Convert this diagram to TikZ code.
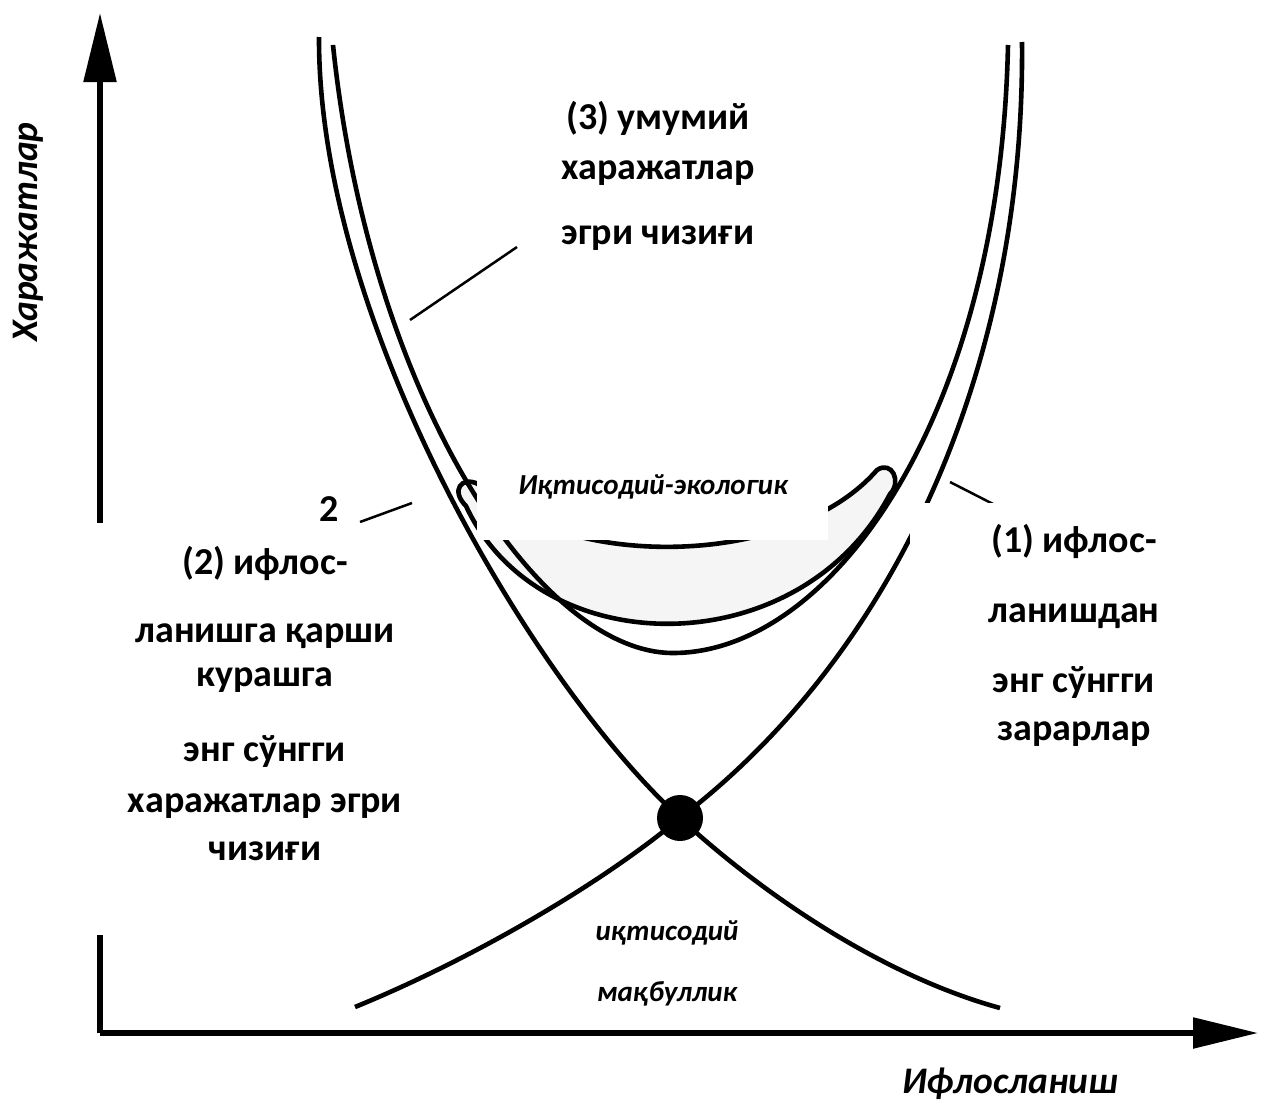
\documentclass[tikz,border=0pt]{standalone}
\usepackage{fontspec}
\setmainfont{Carlito}
\usetikzlibrary{arrows.meta}

\tikzset{
  curve/.style={line width=4.6pt},
  axis/.style={line width=5.5pt},
  pointer/.style={line width=2.5pt},
  mask/.style={fill=white},
  label/.style={font=\fontsize{38}{46}\selectfont\bfseries, align=center, inner sep=0pt},
  axislabel/.style={font=\fontsize{37.5}{45}\selectfont\bfseries\itshape, inner sep=0pt},
  note/.style={font=\fontsize{29}{34}\selectfont\bfseries\itshape, inner sep=0pt},
}

\begin{document}
\begin{tikzpicture}[x=1pt,y=-1pt]
    \useasboundingbox (0,0) rectangle (1261,1100);

    % Axes
    \coordinate (o) at (100,1033);
    \coordinate (ytip) at (100,13);
    \coordinate (xtip) at (1258,1033);
    \draw[axis,-{Triangle[length=69pt,width=32pt]}] (o) -- (ytip);
    \draw[axis,-{Triangle[length=65pt,width=30pt]}] (o) -- (xtip);

    % Optimal zone between the inner curves
    \filldraw[curve, fill=black!4]
        (478,484) .. controls (560,570) and (790,570) .. (877,470)
        .. controls (892,460) and (902,482) .. (890,494)
        .. controls (800,665) and (540,665) .. (466,506)
        .. controls (450,490) and (462,476) .. (478,484) -- cycle;

    % Marginal cost of pollution control (2)
    \node[circle, fill, minimum size=46pt, inner sep=0pt] (opt) at (680,818) {};
    \draw[curve] (319,37) .. controls (318,320) and (530,680) .. (opt.center)
        .. controls (760,892) and (880,975) .. (1000,1008);

    % Marginal damage from pollution (1)
    \draw[curve] (1022,42) .. controls (1025,360) and (900,650) .. (opt.center)
        .. controls (600,885) and (470,960) .. (355,1007);

    % Total cost curve (3)
    \draw[curve] (333,45) .. controls (370,400) and (540,653) .. (673,653)
        .. controls (830,653) and (1000,420) .. (1008,45);

    % Pointers
    \coordinate (p3a) at (410,320);
    \coordinate (p3b) at (517,247);
    \coordinate (p2a) at (360,522);
    \coordinate (p2b) at (412,503);
    \coordinate (p1a) at (950,482);
    \coordinate (p1b) at (995,505);
    \draw[pointer] (p3a) -- (p3b);
    \draw[pointer] (p2a) -- (p2b);
    \draw[pointer] (p1a) -- (p1b);
    \node[label, anchor=base] (two) at (329,521) {2};

    % White boxes under the texts
    \fill[mask] (477,463) rectangle (828,540);
    \fill[mask] (97,523) rectangle (428,935);
    \fill[mask] (910,503) rectangle (1240,760);
    \fill[mask] (565,902) rectangle (770,947);
    \fill[mask] (520,947) rectangle (842,1020);

    % Texts
    \node[label, anchor=north] (total) at (658,101)
        {(3) умумий\\[4pt]харажатлар\\[19pt]эгри чизиғи};
    \node[label, anchor=north] (control) at (265,546)
        {(2) ифлос-\\[22pt]ланишга қарши\\[-2pt]курашга\\[29pt]энг сўнгги\\[5pt]харажатлар эгри\\[2pt]чизиғи};
    \node[label, anchor=north] (damage) at (1074,524)
        {(1) ифлос-\\[24pt]ланишдан\\[24pt]энг сўнгги\\[2pt]зарарлар};
    \node[note, anchor=base] (zone) at (653,494) {Иқтисодий-экологик};
    \node[note, anchor=base] (opt1) at (667,940) {иқтисодий};
    \node[note, anchor=base] (opt2) at (667,1001) {мақбуллик};
    \node[axislabel, anchor=base] (xlabel) at (1010,1093) {Ифлосланиш};
    \node[axislabel, rotate=90, anchor=base] (ylabel) at (37,232) {Харажатлар};
\end{tikzpicture}
\end{document}
